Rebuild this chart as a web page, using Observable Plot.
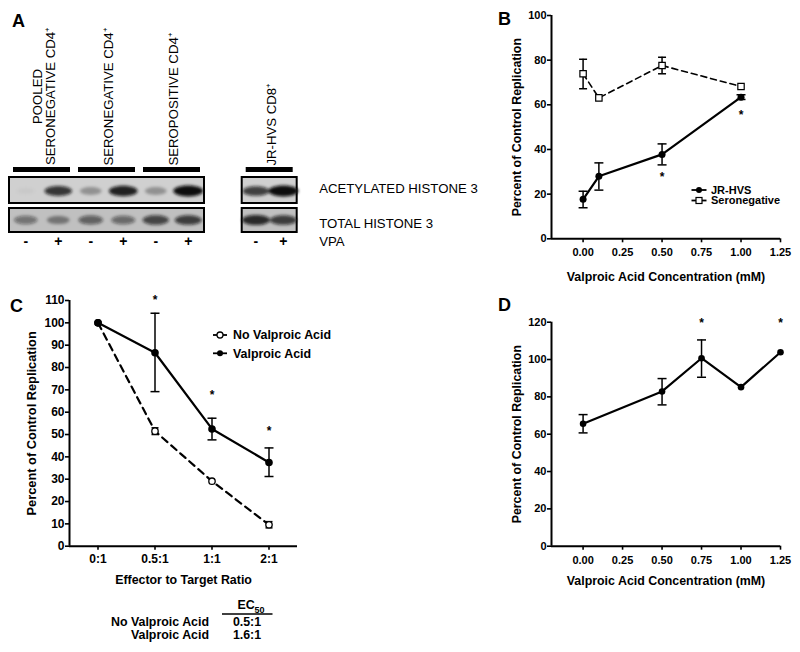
<!DOCTYPE html>
<html><head><meta charset="utf-8">
<script src="https://cdn.jsdelivr.net/npm/d3@7"></script>
<script src="https://cdn.jsdelivr.net/npm/@observablehq/plot@0.6"></script>
<style>
body{margin:0;background:#fff;}
#fig{position:relative;width:800px;height:652px;overflow:hidden;background:#fff;font-family:"Liberation Sans",Arial,Helvetica,sans-serif;}
#fig g[aria-label$="axis tick"] *{stroke-width:1.6px;}
#fig g[aria-label="x-axis"] line,#fig g[aria-label="y-axis"] line{stroke-width:1.6px;}
</style>
</head><body><div id="fig"></div>
<script>
const FONT = '"Liberation Sans", Arial, Helvetica, sans-serif';

// ---------- Panel A (western blot) ----------
const laneGroupNames = ["POOLED\nSERONEGATIVE CD4⁺", "SERONEGATIVE CD4⁺", "SEROPOSITIVE CD4⁺", "JR-HVS CD8⁺"];
const laneGroup = [0, 0, 1, 1, 2, 2, 3, 3];
const laneVPA = ["-", "+", "-", "+", "-", "+", "-", "+"];
const acetylSignal = [0.03, 0.8, 0.3, 0.9, 0.3, 1.0, 0.75, 1.0];
const totalSignal = [0.45, 0.4, 0.55, 0.5, 0.7, 0.75, 0.85, 0.75];
const blotRows = ["ACETYLATED HISTONE 3", "TOTAL HISTONE 3"];
const vpaLabel = "VPA";

// ---------- Panel B ----------
const concB = [0, 0.1, 0.5, 1.0];
const jrMeanB = [17.7, 28.0, 37.8, 63.4];
const jrLowB = [13.9, 21.8, 33.1, 62.4];
const jrHighB = [21.3, 34.0, 42.5, 64.5];
const seroMeanB = [73.9, 63.1, 77.6, 68.2];
const seroLowB = [67.2, null, 73.9, null];
const seroHighB = [80.4, null, 81.3, null];
const starsBx = [0.5, 1.0];
const starsBy = [28.8, 56.7];
const xTicksB = [0, 0.25, 0.5, 0.75, 1.0, 1.25];
const yTicksB = [0, 20, 40, 60, 80, 100];
const seriesNamesB = ["JR-HVS", "Seronegative"];

// ---------- Panel C ----------
const ratiosC = ["0:1", "0.5:1", "1:1", "2:1"];
const vpaMeanC = [100, 86.6, 52.5, 37.5];
const vpaLowC = [null, 69.2, 47.6, 31.2];
const vpaHighC = [null, 104.3, 57.3, 44.0];
const noVpaMeanC = [100, 51.5, 29.1, 9.6];
const noVpaLowC = [null, 50.0, null, 8.2];
const noVpaHighC = [null, 53.0, null, 11.0];
const starsCx = [1, 2, 3];
const starsCy = [111.7, 69, 53];
const yTicksC = [0, 10, 20, 30, 40, 50, 60, 70, 80, 90, 100, 110];
const seriesNamesC = ["No Valproic Acid", "Valproic Acid"];
const ec50Values = ["0.5:1", "1.6:1"];

// ---------- Panel D ----------
const concD = [0, 0.5, 0.75, 1.0, 1.25];
const meanD = [65.6, 82.9, 100.7, 85.2, 103.9];
const lowD = [60.7, 75.7, 90.5, null, null];
const highD = [70.5, 89.8, 110.5, null, null];
const starsDx = [0.75, 1.25];
const starsDy = [120.9, 120.9];
const yTicksD = [0, 20, 40, 60, 80, 100, 120];

const yTitle = "Percent of Control Replication";
const xTitleConc = "Valproic Acid Concentration (mM)";
const xTitleC = "Effector to Target Ratio";

const fig = d3.select("#fig");
function place(node, left, top) {
  fig.append("div").style("position", "absolute").style("left", left + "px").style("top", top + "px").node().appendChild(node);
  return node;
}

const cap = {draw(ctx, size) { const r = Math.sqrt(size / Math.PI); ctx.moveTo(-r, 0); ctx.lineTo(r, 0); }};
function errMarks(rows, capR = 4.5) {
  const e = rows.filter(d => d.lo != null);
  return [
    Plot.ruleX(e, {x: "x", y1: "lo", y2: "hi", stroke: "black", strokeWidth: 1.5}),
    Plot.dot(e, {x: "x", y: "lo", symbol: cap, r: capR, fill: "none", stroke: "black", strokeWidth: 1.5}),
    Plot.dot(e, {x: "x", y: "hi", symbol: cap, r: capR, fill: "none", stroke: "black", strokeWidth: 1.5})
  ];
}
const rows = (xs, m, lo, hi) => xs.map((x, i) => ({x, y: m[i], lo: lo ? lo[i] : null, hi: hi ? hi[i] : null}));
const stars = (xs, ys) => xs.map((x, i) => ({x, y: ys[i]}));
const style = fs => ({fontFamily: FONT, fontSize: fs + "px", fontWeight: "bold", background: "none", overflow: "visible"});
const xTitleMark = (t, dy, fs) => Plot.text([t], {frameAnchor: "bottom", textAnchor: "middle", lineAnchor: "middle", dy, fontSize: fs});
const yTitleMark = (t, dx, fs) => Plot.text([t], {frameAnchor: "left", textAnchor: "middle", lineAnchor: "middle", rotate: -90, dx, fontSize: fs});

// ===== Panel A =====
const blotOfGroup = [0, 0, 0, 1];
const laneWidth = [1, 0.846];
const blotStart = [-0.5, 6.66];
const cursor = blotStart.slice();
const lanes = laneVPA.map((vpa, i) => {
  const g = laneGroup[i], b = blotOfGroup[g], w = laneWidth[b];
  const l = {vpa, group: g, blot: b, x1: cursor[b], x2: cursor[b] + w, x: cursor[b] + w / 2, acetyl: acetylSignal[i], total: totalSignal[i]};
  cursor[b] += w;
  return l;
});
const blots = [0, 1].map(b => {
  const ls = lanes.filter(l => l.blot === b);
  return {x1: d3.min(ls, l => l.x1), x2: d3.max(ls, l => l.x2)};
});
const groups = laneGroupNames.map((name, g) => {
  const ls = lanes.filter(l => l.group === g);
  const x1 = d3.min(ls, l => l.x1), x2 = d3.max(ls, l => l.x2);
  return {name, x1, x2, x: (x1 + x2) / 2};
});
const bands = lanes.flatMap(l => [
  {x: l.x, row: blotRows[0], s: l.acetyl},
  {x: l.x, row: blotRows[1], s: l.total}
]);
const labelX = blots[1].x2;
const blob = {draw(ctx, size) {
  const r = Math.sqrt(size / Math.PI), w = r, h = r * 0.36, k = 0.5523;
  ctx.moveTo(-w, 0);
  ctx.bezierCurveTo(-w, -h * k, -w * k, -h, 0, -h);
  ctx.bezierCurveTo(w * k, -h, w, -h * k, w, 0);
  ctx.bezierCurveTo(w, h * k, w * k, h, 0, h);
  ctx.bezierCurveTo(-w * k, h, -w, h * k, -w, 0);
  ctx.closePath();
}};

const plotA = Plot.plot({
  width: 500, height: 260, margin: 0,
  style: {fontFamily: FONT, background: "none", overflow: "visible"},
  x: {domain: [-0.5, 5.5], range: [9, 204], axis: null},
  y: {type: "band", domain: ["header", ...blotRows], range: [148, 235], padding: 0, axis: null},
  r: {type: "linear", domain: [0, 1], range: [9, 15]},
  marks: [
    Plot.barX(groups, {x1: "x1", x2: "x2", y: () => "header", fill: "black", insetTop: 19, insetBottom: 5, insetLeft: 4, insetRight: 4}),
    Plot.barX(blots, {x1: "x1", x2: "x2", y: () => blotRows[0], fill: "#d0d0d0", stroke: "black", strokeWidth: 2, insetBottom: 3}),
    Plot.barX(blots, {x1: "x1", x2: "x2", y: () => blotRows[1], fill: "#c0c0c0", stroke: "black", strokeWidth: 2, insetTop: 2, insetBottom: 3}),
    Plot.dot(bands, {x: "x", y: "row", r: "s", symbol: blob, fill: d => `rgba(15,15,15,${d.s})`, stroke: "none", dy: -1}),
    Plot.text(groups.slice(0, 1), {x: "x", y: () => "header", text: "name", rotate: -90, textAnchor: "middle", fontSize: 13.2, dy: -66.5, dx: 2}),
    Plot.text(groups.slice(1), {x: "x", y: () => "header", text: "name", rotate: -90, textAnchor: "start", fontSize: 13.2, dy: 2.5, dx: 2}),
    Plot.text(lanes, {x: "x", y: () => blotRows[1], text: "vpa", dy: 21, fontSize: 14, fontWeight: "bold"}),
    Plot.text([blotRows[0]], {x: () => labelX, y: d => d, text: d => d, textAnchor: "start", dx: 22, dy: -3, fontSize: 13.2}),
    Plot.text([blotRows[1]], {x: () => labelX, y: d => d, text: d => d, textAnchor: "start", dx: 22, dy: 3, fontSize: 13.2}),
    Plot.text([vpaLabel], {x: () => labelX, y: () => blotRows[1], text: d => d, textAnchor: "start", dx: 22, dy: 20.5, fontSize: 13.2})
  ]
});
const svgA = d3.select(plotA);
svgA.insert("defs", ":first-child").append("filter").attr("id", "blotBlur")
  .attr("x", "-50%").attr("y", "-50%").attr("width", "200%").attr("height", "200%")
  .append("feGaussianBlur").attr("stdDeviation", 1.6);
svgA.select('g[aria-label="dot"]').attr("filter", "url(#blotBlur)");
place(plotA, 0, 0);

// ===== Panel B =====
const jrB = rows(concB, jrMeanB, jrLowB, jrHighB);
const seroB = rows(concB, seroMeanB, seroLowB, seroHighB);
const plotB = Plot.plot({
  width: 300, height: 300, marginLeft: 51, marginRight: 20, marginTop: 15, marginBottom: 61.7,
  style: style(11),
  x: {domain: [-0.2, 1.25], ticks: xTicksB, tickFormat: d3.format(".2f"), tickSize: 4, tickPadding: 5.5, label: null},
  y: {domain: [0, 100], ticks: yTicksB, tickSize: 4, tickPadding: 1, label: null},
  marks: [
    Plot.ruleY([0], {strokeWidth: 2}),
    Plot.ruleX([-0.2], {y1: 0, y2: 100, strokeWidth: 2}),
    ...errMarks(seroB, 4),
    Plot.line(seroB, {x: "x", y: "y", strokeWidth: 1.6, strokeDasharray: "6,4"}),
    Plot.dot(seroB, {x: "x", y: "y", symbol: "square", r: 3.6, fill: "white", stroke: "black", strokeWidth: 1.2}),
    ...errMarks(jrB, 4.5),
    Plot.line(jrB, {x: "x", y: "y", strokeWidth: 2.2}),
    Plot.dot(jrB, {x: "x", y: "y", r: 3.5, fill: "black"}),
    Plot.text(stars(starsBx, starsBy), {x: "x", y: "y", text: () => "*", fontSize: 12, dy: 3}),
    xTitleMark(xTitleConc, 38, 12.4),
    yTitleMark(yTitle, -34, 12.4)
  ]
});
place(plotB, 500, 0);

// ===== Panel C =====
const vpaC = rows(ratiosC.map((r, i) => i), vpaMeanC, vpaLowC, vpaHighC);
const noVpaC = rows(ratiosC.map((r, i) => i), noVpaMeanC, noVpaLowC, noVpaHighC);
const plotC = Plot.plot({
  width: 400, height: 310, marginLeft: 69, marginRight: 103, marginTop: 15, marginBottom: 49.3,
  style: style(12),
  x: {domain: [-0.5, 3.5], ticks: ratiosC.map((r, i) => i), tickFormat: i => ratiosC[i], tickSize: 4, tickPadding: 4.5, label: null},
  y: {domain: [0, 110], ticks: yTicksC, tickSize: 4, tickPadding: 1, label: null},
  marks: [
    Plot.ruleY([0], {strokeWidth: 2}),
    Plot.ruleX([-0.5], {y1: 0, y2: 110, strokeWidth: 2}),
    ...errMarks(noVpaC, 3.5),
    Plot.line(noVpaC, {x: "x", y: "y", strokeWidth: 2.2, strokeDasharray: "7,5"}),
    Plot.dot(noVpaC, {x: "x", y: "y", r: 3.2, fill: "white", stroke: "black", strokeWidth: 1.3}),
    ...errMarks(vpaC, 4.5),
    Plot.line(vpaC, {x: "x", y: "y", strokeWidth: 2.2}),
    Plot.dot(vpaC, {x: "x", y: "y", r: 3.8, fill: "black"}),
    Plot.text(stars(starsCx, starsCy), {x: "x", y: "y", text: () => "*", fontSize: 12, dy: 3}),
    xTitleMark(xTitleC, 34.3, 12.4),
    yTitleMark(yTitle, -37.3, 12.8)
  ]
});
place(plotC, 0, 285);

// ===== Panel D =====
const dRows = rows(concD, meanD, lowD, highD);
const plotD = Plot.plot({
  width: 300, height: 300, marginLeft: 51, marginRight: 20, marginTop: 21.7, marginBottom: 54.3,
  style: style(11),
  x: {domain: [-0.2, 1.25], ticks: xTicksB, tickFormat: d3.format(".2f"), tickSize: 4, tickPadding: 5.5, label: null},
  y: {domain: [0, 120], ticks: yTicksD, tickSize: 4, tickPadding: 1, label: null},
  marks: [
    Plot.ruleY([0], {strokeWidth: 2}),
    Plot.ruleX([-0.2], {y1: 0, y2: 120, strokeWidth: 2}),
    ...errMarks(dRows, 4.5),
    Plot.line(dRows, {x: "x", y: "y", strokeWidth: 2.2}),
    Plot.dot(dRows, {x: "x", y: "y", r: 3.3, fill: "black"}),
    Plot.text(stars(starsDx, starsDy), {x: "x", y: "y", text: () => "*", fontSize: 12, dy: 3}),
    xTitleMark(xTitleConc, 35, 12.4),
    yTitleMark(yTitle, -34.3, 12.4)
  ]
});
place(plotD, 500, 300);

// ===== Overlay: panel letters, legends, EC50 table =====
const ov = fig.append("svg").attr("width", 800).attr("height", 652)
  .style("position", "absolute").style("left", 0).style("top", 0)
  .style("font-family", FONT).style("pointer-events", "none");
const panelLetters = [{t: "A", x: 12, y: 27}, {t: "B", x: 498, y: 25}, {t: "C", x: 10, y: 312}, {t: "D", x: 498, y: 311}];
ov.selectAll("text.pl").data(panelLetters).join("text").attr("class", "pl")
  .attr("x", d => d.x).attr("y", d => d.y).attr("font-size", 18).attr("font-weight", "bold").text(d => d.t);

function legend(items, ox, oy, step, fs, half, gap) {
  const g = ov.append("g").attr("transform", `translate(${ox},${oy})`);
  items.forEach((it, i) => {
    const y = i * step;
    g.append("line").attr("x1", -half).attr("x2", half).attr("y1", y).attr("y2", y)
      .attr("stroke", "black").attr("stroke-width", 1.8);
    if (it.marker === "circle") g.append("circle").attr("cx", 0).attr("cy", y).attr("r", 3).attr("fill", "black");
    if (it.marker === "opencircle") g.append("circle").attr("cx", 0).attr("cy", y).attr("r", 3).attr("fill", "white").attr("stroke", "black").attr("stroke-width", 1.3);
    if (it.marker === "square") g.append("rect").attr("x", -3).attr("y", y - 3).attr("width", 6).attr("height", 6).attr("fill", "white").attr("stroke", "black").attr("stroke-width", 1.2);
    g.append("text").attr("x", half + gap).attr("y", y).attr("dy", "0.35em").attr("font-size", fs)
      .attr("font-weight", "bold").text(it.label);
  });
}
legend([{label: seriesNamesB[0], marker: "circle"}, {label: seriesNamesB[1], marker: "square"}], 699, 190, 10.5, 11, 7.5, 4.5);
legend([{label: seriesNamesC[0], marker: "opencircle"}, {label: seriesNamesC[1], marker: "circle"}], 220, 335, 18.3, 12.4, 7, 6);

// EC50 table
const tb = ov.append("g").attr("font-weight", "bold").attr("font-size", 12.4);
const hdr = tb.append("text").attr("x", 251).attr("y", 608.5).attr("text-anchor", "middle");
hdr.append("tspan").text("EC");
hdr.append("tspan").attr("font-size", 9).attr("dy", 4).text("50");
tb.append("line").attr("x1", 222).attr("x2", 272.5).attr("y1", 614).attr("y2", 614).attr("stroke", "black").attr("stroke-width", 1.4);
seriesNamesC.forEach((name, i) => {
  const y = 626 + i * 13.3;
  tb.append("text").attr("x", 209).attr("y", y).attr("text-anchor", "end").text(name);
  tb.append("text").attr("x", 247).attr("y", y).attr("text-anchor", "middle").text(ec50Values[i]);
});
</script>
</body></html>
